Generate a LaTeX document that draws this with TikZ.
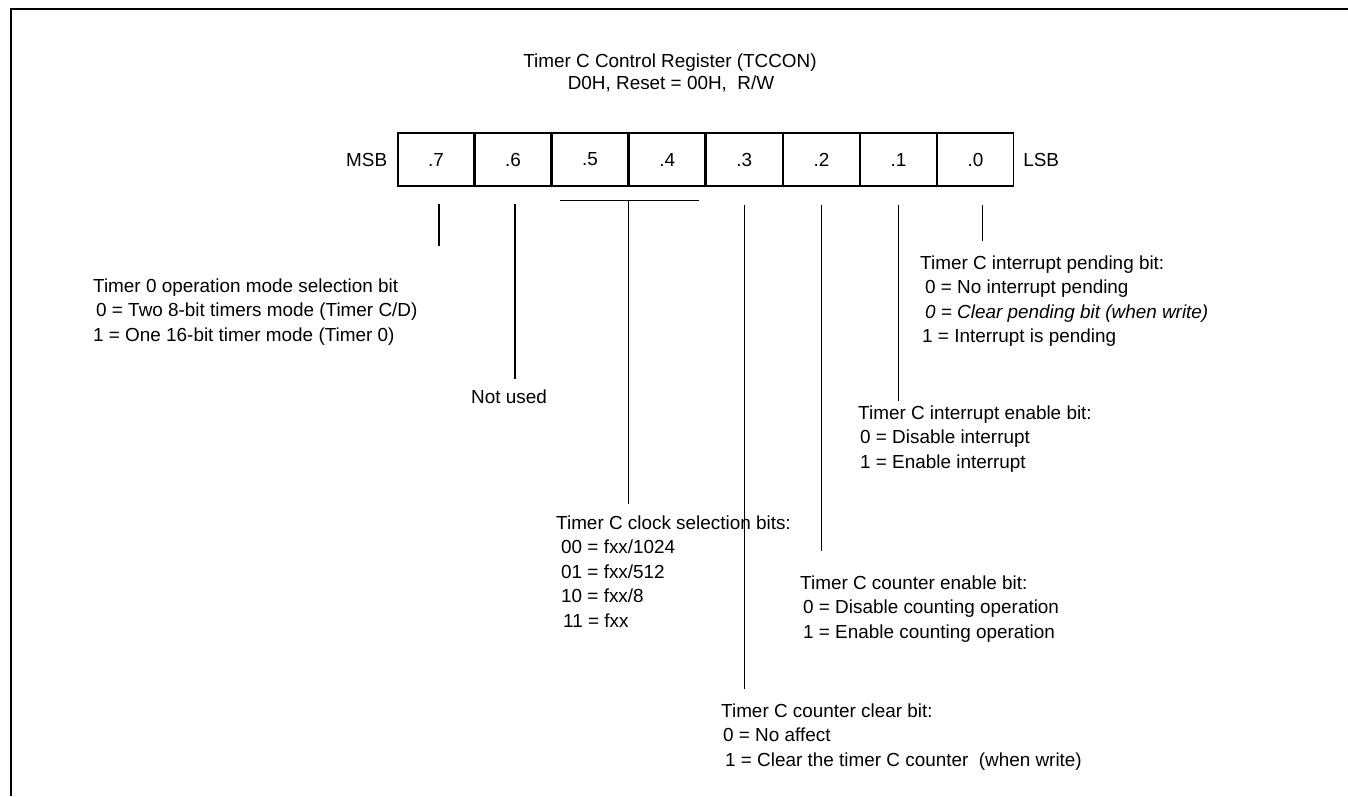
\documentclass[tikz,border=0pt]{standalone}
\usepackage{fontspec}
\setmainfont{Liberation Sans}
\usetikzlibrary{positioning}

\begin{document}
\begin{tikzpicture}[
  x=1pt, y=-1pt,
  font=\fontsize{18.9}{24.5}\selectfont,
  cell/.style={draw, line width=1.3pt, minimum width=75.8pt,
               minimum height=53pt, inner sep=0pt},
  note/.style={anchor=base west, align=left, inner sep=0pt},
  bitline/.style={line width=1.3pt}
]
\useasboundingbox (0,0) rectangle (1348,796);
\draw[line width=2.4pt] (11,796) -- (11,9) -- (1348,9);

% title
\node[anchor=base] (title) at (670,67) {Timer C Control Register (TCCON)};
\node[anchor=base] (addr) at (671,89) {D0H, Reset = 00H,\ \ R/W};

% register
\node[cell] (b7) at (435.9,159.5) {.7};
\node[cell, right=0pt of b7] (b6) {.6};
\node[cell, right=0pt of b6] (b5) {.5};
\node[cell, right=0pt of b5] (b4) {.4};
\node[cell, right=0pt of b4] (b3) {.3};
\node[cell, right=0pt of b3] (b2) {.2};
\node[cell, right=0pt of b2] (b1) {.1};
\node[cell, right=0pt of b1] (b0) {.0};
\node[inner sep=0pt, left=10pt of b7] (msb) {MSB};
\node[inner sep=0pt, right=9pt of b0] (lsb) {LSB};

% bit descriptions (base = last line)
\node[note] (mode) at (93,341) {Timer 0 operation mode selection bit\\
  \hspace*{3pt}0 = Two 8-bit timers mode (Timer C/D)\\
  1 = One 16-bit timer mode (Timer 0)};
\node[note] (unused) at (471,403) {Not used};
\node[note] (clock) at (556,627) {Timer C clock selection bits:\\
  \hspace*{5pt}00 = fxx/1024\\
  \hspace*{5pt}01 = fxx/512\\
  \hspace*{5pt}10 = fxx/8\\
  \hspace*{7pt}11 = fxx};
\node[note] (clear) at (721,766) {Timer C counter clear bit:\\
  \hspace*{2pt}0 = No affect\\
  \hspace*{4pt}1 = Clear the timer C counter\ \ (when write)};
\node[note] (count) at (800,638) {Timer C counter enable bit:\\
  \hspace*{3pt}0 = Disable counting operation\\
  \hspace*{3pt}1 = Enable counting operation};
\node[note] (inten) at (858,468) {Timer C interrupt enable bit:\\
  \hspace*{2pt}0 = Disable interrupt\\
  \hspace*{2pt}1 = Enable interrupt};
\node[note] (pend) at (920,342.5) {Timer C interrupt pending bit:\\
  \hspace*{5pt}0 = No interrupt pending\\
  \hspace*{5pt}\textit{0 = Clear pending bit (when write)}\\
  \hspace*{2pt}1 = Interrupt is pending};

% bit lines
\draw[bitline] (b7.south) ++(3,17) -- ++(0,42);
\draw[bitline] (b6.south) ++(2,17) -- ++(0,175);
\draw[bitline] (b5.south west) ++(8,14) -- ++(139,0);
\draw[bitline] (b5.south east) ++(0,14) -- ++(0,303);
\draw[bitline] (b3.south) ++(0,18) -- ++(0,484);
\draw[bitline] (b2.south) ++(0,18) -- ++(0,346);
\draw[bitline] (b1.south) ++(0,18) -- ++(0,196);
\draw[bitline] (b0.south) ++(7,18) -- ++(0,36);
\end{tikzpicture}
\end{document}
